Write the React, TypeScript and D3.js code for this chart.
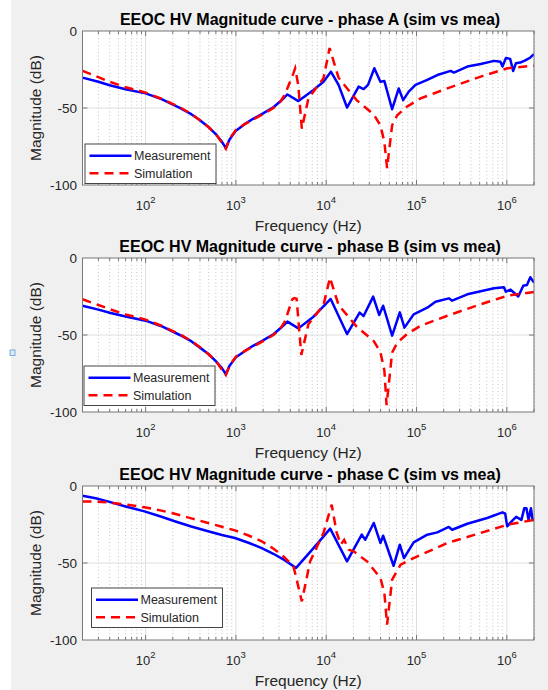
import React from 'react';
import * as d3 from 'd3';

const W = 548;
const H = 690;

// [frequency (Hz), magnitude (dB)]
const measA: [number, number][] = [
  [20, -30.3], [30, -33], [40, -35.2], [60, -37.8], [100, -40.5], [150, -44.2], [239, -49.9], [320, -54],
  [400, -58], [500, -62.5], [610, -67.5], [700, -72], [774, -76], [850, -70.5], [1000, -64.7], [1250, -60.5],
  [1550, -57], [2000, -53.5], [2600, -49.5], [3200, -45], [3720, -41.2], [4920, -45.5], [7230, -38.3],
  [9330, -32.9], [11270, -26.4], [13700, -35], [17000, -49.7], [22860, -36.1], [25940, -37.7], [29040, -35],
  [34100, -24.2], [39800, -32.9], [44060, -32.5], [53700, -50.8], [63530, -37.3], [71120, -44.9],
  [82040, -39.4], [97500, -35], [131500, -31.8], [169800, -28.6], [238800, -25.9], [259400, -27],
  [365600, -23.1], [514000, -21.4], [722800, -19.4], [850000, -20], [895400, -23.1], [975000, -17.6],
  [1089000, -18.1], [1175000, -26], [1260000, -21], [1410000, -20.5], [1600000, -19], [1800000, -17.5],
  [2000000, -15],
];
const simA: [number, number][] = [
  [20, -25.9], [30, -30], [40, -33], [60, -36.5], [100, -40], [150, -44], [239, -49.5], [320, -53.8],
  [400, -58], [500, -62.5], [610, -67.5], [700, -72.5], [774, -76.5], [850, -70], [1000, -64.2], [1250, -60.5],
  [1550, -57.5], [2000, -54], [2600, -50], [3100, -46], [3500, -41], [4300, -28], [4530, -24.2], [4900, -35],
  [5370, -63.4], [6350, -43.8], [9330, -30.7], [10900, -11.1], [13700, -30.3], [21700, -44.9],
  [33600, -54.2], [39800, -61.2], [44060, -72.1], [47200, -89], [53700, -61.2], [61100, -54.7],
  [78100, -49.2], [110700, -43.8], [219300, -37.3], [514000, -29.6], [1019000, -24.2], [2000000, -22.5],
];

const measB: [number, number][] = [
  [20, -31], [30, -33.5], [40, -35.5], [60, -38], [100, -40.7], [150, -44.3], [239, -50], [320, -54],
  [400, -58.2], [500, -62.5], [610, -67.5], [700, -71.5], [774, -75.5], [850, -70], [1000, -64.5],
  [1250, -60.5], [1550, -57], [2000, -53.5], [2600, -49.5], [3200, -45], [3720, -41.3], [4920, -45.7],
  [7230, -38.1], [11200, -26.6], [17000, -49.4], [23440, -35.5], [25940, -37.7], [33100, -25.1],
  [38600, -37], [42700, -31], [53700, -50.4], [65300, -35.3], [73500, -45.2], [93000, -36.6],
  [131500, -32.3], [162400, -28.4], [228000, -26.2], [248000, -27.7], [365600, -23.6], [722800, -19.7],
  [930000, -19], [975000, -21.9], [1100000, -20.5], [1340000, -25], [1520000, -18], [1670000, -17.5],
  [1820000, -12.5], [2000000, -16],
];
const simB: [number, number][] = [
  [20, -26.8], [30, -30.5], [40, -33.2], [60, -36.7], [100, -40], [150, -44], [239, -49.5], [320, -53.8],
  [400, -58], [500, -62.5], [610, -67.5], [700, -72.5], [774, -76], [850, -70], [1000, -64], [1250, -60.5],
  [1550, -57.5], [2000, -54], [2600, -50], [3100, -46], [3500, -41], [4200, -27], [4400, -26], [4700, -26.5],
  [5300, -63], [6350, -43], [9330, -30.5], [11000, -12.8], [13700, -30.5], [21700, -44.5], [33600, -54],
  [39800, -61], [44060, -73], [46600, -95.5], [53700, -61.5], [61100, -55], [78100, -49.5], [110700, -44],
  [219300, -37.5], [514000, -30], [1019000, -24.5], [2000000, -22],
];

const measC: [number, number][] = [
  [20, -6.3], [28, -8], [38, -10], [60, -13.3], [97, -16.5], [150, -20], [210, -22.9], [320, -26.3],
  [492, -29.4], [700, -31.8], [975, -33.8], [1400, -37], [1930, -40.3], [2600, -44], [3500, -48.3],
  [4640, -53.2], [7230, -40.3], [11070, -27.7], [17000, -48.9], [24730, -31.6], [27070, -34.9],
  [33600, -24], [39800, -37], [42700, -32.3], [55700, -51.8], [65300, -38.1], [72600, -46.8], [93000, -36.6],
  [131500, -31.6], [169800, -30.1], [228000, -26.6], [248000, -28.4], [365600, -24.5], [606000, -20.8],
  [895000, -17.1], [960000, -18], [1010000, -26.2], [1150000, -22.5], [1270000, -20], [1450000, -22],
  [1560000, -14.5], [1650000, -14.5], [1740000, -22], [1850000, -14.5], [1930000, -22], [2000000, -22],
];
const simC: [number, number][] = [
  [20, -10], [28, -10.2], [38, -10.6], [60, -12], [97, -13.8], [150, -16], [210, -18], [320, -21],
  [492, -24], [700, -26.5], [975, -28.8], [1400, -32.3], [1930, -35.9], [2500, -40], [3220, -44.6],
  [4340, -52.2], [5370, -74.9], [6640, -48.9], [9330, -30.5], [11500, -12.1], [13000, -30], [14500, -38],
  [15800, -35], [17800, -41.4], [20100, -42.4], [28300, -48.9], [39800, -59.7], [44060, -69.5],
  [47200, -90], [53700, -60.8], [66700, -51.1], [93000, -46.8], [219300, -37], [514000, -30.5],
  [1019000, -25.1], [2000000, -22],
];

const xDomain: [number, number] = [20, 2e6];
const xMajor = [1e2, 1e3, 1e4, 1e5, 1e6];
const xExp = ['2', '3', '4', '5', '6'];
const yTicks = [0, -50, -100];
const seriesNames = ['Measurement', 'Simulation'];

const panels = [
  { title: 'EEOC HV Magnitude curve - phase A (sim vs mea)', meas: measA, sim: simA, top: 31, lx: 85, ly: 144 },
  { title: 'EEOC HV Magnitude curve - phase B (sim vs mea)', meas: measB, sim: simB, top: 258, lx: 84, ly: 366 },
  { title: 'EEOC HV Magnitude curve - phase C (sim vs mea)', meas: measC, sim: simC, top: 486, lx: 91.5, ly: 588 },
];

const FONT = '"Liberation Sans", Arial, Helvetica, sans-serif';
const LEFT = 82.5;
const RIGHT = 534;
const PH = 154;

const minorTicks: number[] = [];
for (let d = 1; d <= 6; d++) {
  for (let m = 2; m <= 9; m++) {
    const v = m * Math.pow(10, d);
    if (v >= xDomain[0] && v <= xDomain[1]) minorTicks.push(v);
  }
}

const x = d3.scaleLog().domain(xDomain).range([LEFT, RIGHT]);

const Panel = ({ p, i }: { p: typeof panels[0]; i: number }) => {
  const y = d3.scaleLinear().domain([-100, 0]).range([p.top + PH, p.top]);
  const line = d3.line<[number, number]>()
    .x(d => x(d[0]))
    .y(d => y(d[1]));
  const bottom = p.top + PH;
  const clipId = `clip-${i}`;
  return (
    <g>
      <clipPath id={clipId}>
        <rect x={LEFT} y={p.top} width={RIGHT - LEFT} height={PH} />
      </clipPath>
      <rect x={LEFT} y={p.top} width={RIGHT - LEFT} height={PH} fill="#fff" />
      {/* grid */}
      {minorTicks.map(v => (
        <line key={'mg' + v} x1={x(v)} x2={x(v)} y1={p.top} y2={bottom}
          stroke="#c4c4c4" strokeWidth={1} strokeDasharray="1,2.5" />
      ))}
      {xMajor.map(v => (
        <line key={'Mg' + v} x1={x(v)} x2={x(v)} y1={p.top} y2={bottom} stroke="#dedede" strokeWidth={1} />
      ))}
      <line x1={LEFT} x2={RIGHT} y1={y(-50)} y2={y(-50)} stroke="#dedede" strokeWidth={1} />

      {/* curves */}
      <g clipPath={`url(#${clipId})`}>
        <path d={line(p.meas) || ''} fill="none" stroke="#0000ff" strokeWidth={2.5} strokeLinejoin="round" />
        <path d={line(p.sim) || ''} fill="none" stroke="#ff0000" strokeWidth={2.5} strokeDasharray="9,6" />
      </g>

      {/* box + ticks */}
      <rect x={LEFT} y={p.top} width={RIGHT - LEFT} height={PH} fill="none" stroke="#777" strokeWidth={1} />
      {minorTicks.map(v => (
        <g key={'mt' + v} stroke="#777">
          <line x1={x(v)} x2={x(v)} y1={bottom} y2={bottom - 3} />
          <line x1={x(v)} x2={x(v)} y1={p.top} y2={p.top + 3} />
        </g>
      ))}
      {xMajor.map(v => (
        <g key={'Mt' + v} stroke="#777">
          <line x1={x(v)} x2={x(v)} y1={bottom} y2={bottom - 5} />
          <line x1={x(v)} x2={x(v)} y1={p.top} y2={p.top + 5} />
        </g>
      ))}
      <line x1={LEFT} x2={LEFT + 5} y1={y(-50)} y2={y(-50)} stroke="#777" />
      <line x1={RIGHT} x2={RIGHT - 5} y1={y(-50)} y2={y(-50)} stroke="#777" />

      {/* tick labels */}
      {xMajor.map((v, k) => (
        <text key={'xl' + v} x={x(v)} y={bottom + 25} textAnchor="middle" fontSize={13} fill="#262626" fontFamily={FONT}>
          10<tspan dy={-7} fontSize={9.5}>{xExp[k]}</tspan>
        </text>
      ))}
      {yTicks.map(v => (
        <text key={'yl' + v} x={LEFT - 5.5} y={y(v)} dy="0.36em" textAnchor="end" fontSize={13.5} fill="#262626" fontFamily={FONT}>
          {v}
        </text>
      ))}

      {/* labels */}
      <text x={310} y={p.top - 6.5} textAnchor="middle" fontSize={16} fontWeight="bold" fill="#000" fontFamily={FONT}>
        {p.title}
      </text>
      <text x={(LEFT + RIGHT) / 2} y={bottom + 46} textAnchor="middle" fontSize={15.5} fill="#262626" fontFamily={FONT}>
        Frequency (Hz)
      </text>
      <text transform={`translate(41,${p.top + PH / 2}) rotate(-90)`} textAnchor="middle" fontSize={15.5} fill="#262626" fontFamily={FONT}>
        Magnitude (dB)
      </text>

      {/* legend */}
      <g transform={`translate(${p.lx},${p.ly})`}>
        <rect x={0} y={0} width={131} height={39.5} fill="#fff" stroke="#444" strokeWidth={1} />
        <line x1={4.5} x2={46.5} y1={11.7} y2={11.7} stroke="#0000ff" strokeWidth={2.5} />
        <line x1={4.5} x2={46.5} y1={29.3} y2={29.3} stroke="#ff0000" strokeWidth={2.5} strokeDasharray="9,6" />
        {seriesNames.map((n, k) => (
          <text key={n} x={49} y={k === 0 ? 11.7 : 29.3} dy="0.36em" fontSize={12.5} fill="#262626" fontFamily={FONT}>
            {n}
          </text>
        ))}
      </g>
    </g>
  );
};

const App = () => {
  return (
    <svg width={W} height={H} style={{ position: 'absolute', left: 0, top: 0 }}>
      <rect x={0} y={0} width={W} height={H} fill="#fff" />
      <rect x={11} y={0} width={W - 11} height={H} fill="#f0f0f0" />
      {panels.map((p, i) => <Panel key={i} p={p} i={i} />)}
      <rect x={10} y={350} width={5} height={5.5} fill="#dcebf9" stroke="#5a9bd8" strokeWidth={0.8} />
    </svg>
  );
};

export default App;
